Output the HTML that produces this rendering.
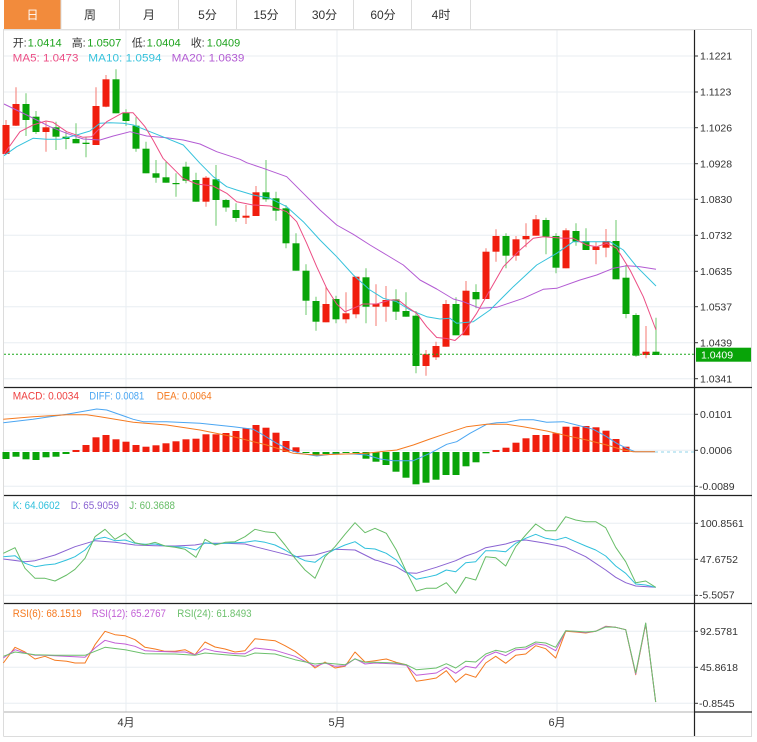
<!DOCTYPE html>
<html><head><meta charset="utf-8">
<style>
html,body{margin:0;padding:0;background:#fff;}
svg{display:block;font-family:"Liberation Sans","Noto Sans CJK SC",sans-serif;}
.wr{stroke:#f47a72;stroke-width:1}
.wg{stroke:#6cc86c;stroke-width:1}
.r{fill:#f01e0e}
.g{fill:#08a408}
.grid{stroke:#e8eef2;stroke-width:1}
.ax{font-size:10.5px;fill:#333}
.lg{font-size:11px}
</style></head>
<body>
<svg width="757" height="742" viewBox="0 0 757 742" xmlns="http://www.w3.org/2000/svg">
<rect width="757" height="742" fill="#fff"/>
<!-- tabs -->
<rect x="4" y="0" width="57" height="29" fill="#f28b3c"/>
<g stroke="#dcdcdc" stroke-width="1">
<line x1="61" y1="0" x2="61" y2="29"/>
<line x1="119.5" y1="0" x2="119.5" y2="29"/>
<line x1="178.5" y1="0" x2="178.5" y2="29"/>
<line x1="236.5" y1="0" x2="236.5" y2="29"/>
<line x1="295.5" y1="0" x2="295.5" y2="29"/>
<line x1="353.5" y1="0" x2="353.5" y2="29"/>
<line x1="411.5" y1="0" x2="411.5" y2="29"/>
<line x1="470.5" y1="0" x2="470.5" y2="29"/>
<line x1="3.5" y1="29.5" x2="752" y2="29.5"/>
<line x1="3.5" y1="29" x2="3.5" y2="736.5"/>
<line x1="751.5" y1="29" x2="751.5" y2="736.5"/>
<line x1="3.5" y1="736.5" x2="752" y2="736.5"/>
</g>
<g font-size="12" text-anchor="middle">
<text x="32.5" y="19" fill="#fff">日</text>
<text x="90" y="19" fill="#333">周</text>
<text x="149" y="19" fill="#333">月</text>
<text x="207.5" y="19" fill="#333">5分</text>
<text x="266" y="19" fill="#333">15分</text>
<text x="324.5" y="19" fill="#333">30分</text>
<text x="383" y="19" fill="#333">60分</text>
<text x="441" y="19" fill="#333">4时</text>
</g>

<!-- grid -->
<g class="grid">
<line x1="4" y1="56" x2="694" y2="56"/>
<line x1="4" y1="92" x2="694" y2="92"/>
<line x1="4" y1="127.7" x2="694" y2="127.7"/>
<line x1="4" y1="163.7" x2="694" y2="163.7"/>
<line x1="4" y1="199.3" x2="694" y2="199.3"/>
<line x1="4" y1="235.3" x2="694" y2="235.3"/>
<line x1="4" y1="271.3" x2="694" y2="271.3"/>
<line x1="4" y1="306.7" x2="694" y2="306.7"/>
<line x1="4" y1="342.7" x2="694" y2="342.7"/>
<line x1="4" y1="378.7" x2="694" y2="378.7"/>
<line x1="4" y1="414.3" x2="694" y2="414.3"/>
<line x1="4" y1="450.3" x2="694" y2="450.3"/>
<line x1="4" y1="486.3" x2="694" y2="486.3"/>
<line x1="4" y1="523.3" x2="694" y2="523.3"/>
<line x1="4" y1="559.3" x2="694" y2="559.3"/>
<line x1="4" y1="595.3" x2="694" y2="595.3"/>
<line x1="4" y1="631.3" x2="694" y2="631.3"/>
<line x1="4" y1="667.3" x2="694" y2="667.3"/>
<line x1="4" y1="703.3" x2="694" y2="703.3"/>
<line x1="126" y1="30" x2="126" y2="712"/>
<line x1="337" y1="30" x2="337" y2="712"/>
<line x1="557" y1="30" x2="557" y2="712"/>
</g>

<!-- candles -->
<g>
<line class="wr" x1="6" y1="120" x2="6" y2="154"/><rect class="r" x="2.5" y="125" width="7" height="29"/>
<line class="wr" x1="16" y1="87.3" x2="16" y2="126"/><rect class="r" x="12.5" y="104" width="7" height="21.7"/>
<line class="wg" x1="26" y1="93.3" x2="26" y2="136"/><rect class="g" x="22.5" y="104" width="7" height="16"/>
<line class="wg" x1="36" y1="111" x2="36" y2="134"/><rect class="g" x="32.5" y="116.7" width="7" height="15.3"/>
<line class="wr" x1="46" y1="121.7" x2="46" y2="151.7"/><rect class="r" x="42.5" y="127.3" width="7" height="4.7"/>
<line class="wg" x1="56" y1="121.7" x2="56" y2="150"/><rect class="g" x="52.5" y="127.3" width="7" height="9.4"/>
<line class="wg" x1="66" y1="131.7" x2="66" y2="149.3"/><rect class="g" x="62.5" y="136.7" width="7" height="2.3"/>
<line class="wg" x1="76" y1="123.3" x2="76" y2="143.3"/><rect class="g" x="72.5" y="139" width="7" height="4.3"/>
<line class="wg" x1="86" y1="136.7" x2="86" y2="157.3"/><rect class="g" x="82.5" y="142.7" width="7" height="1.3"/>
<line class="wr" x1="96" y1="87.3" x2="96" y2="145"/><rect class="r" x="92.5" y="106" width="7" height="39"/>
<line class="wr" x1="106" y1="75" x2="106" y2="107.3"/><rect class="r" x="102.5" y="79.3" width="7" height="27.4"/>
<line class="wg" x1="116" y1="69.3" x2="116" y2="113.3"/><rect class="g" x="112.5" y="79.3" width="7" height="34"/>
<line class="wg" x1="126" y1="109.3" x2="126" y2="126"/><rect class="g" x="122.5" y="112.7" width="7" height="8.3"/>
<line class="wg" x1="136" y1="117.3" x2="136" y2="151.7"/><rect class="g" x="132.5" y="125.7" width="7" height="23"/>
<line class="wg" x1="146" y1="141.7" x2="146" y2="173.3"/><rect class="g" x="142.5" y="148.7" width="7" height="24.6"/>
<line class="wg" x1="156" y1="160" x2="156" y2="182.7"/><rect class="g" x="152.5" y="173.3" width="7" height="4.4"/>
<line class="wg" x1="166" y1="161.7" x2="166" y2="182.7"/><rect class="g" x="162.5" y="177.3" width="7" height="5.4"/>
<line class="wg" x1="176" y1="173.3" x2="176" y2="196.7"/><rect class="g" x="172.5" y="183" width="7" height="1.2"/>
<line class="wg" x1="186" y1="161.7" x2="186" y2="183.3"/><rect class="g" x="182.5" y="166.7" width="7" height="14"/>
<line class="wg" x1="196" y1="172.7" x2="196" y2="201.7"/><rect class="g" x="192.5" y="180" width="7" height="21.7"/>
<line class="wr" x1="206" y1="176" x2="206" y2="206.7"/><rect class="r" x="202.5" y="177.7" width="7" height="24"/>
<line class="wg" x1="216" y1="165" x2="216" y2="225.7"/><rect class="g" x="212.5" y="179.3" width="7" height="20.7"/>
<line class="wg" x1="226" y1="199" x2="226" y2="211.7"/><rect class="g" x="222.5" y="200" width="7" height="7.5"/>
<line class="wg" x1="236" y1="203.3" x2="236" y2="221.7"/><rect class="g" x="232.5" y="210" width="7" height="8"/>
<line class="wr" x1="246" y1="205" x2="246" y2="224"/><rect class="r" x="242.5" y="215.7" width="7" height="2"/>
<line class="wr" x1="256" y1="186" x2="256" y2="216"/><rect class="r" x="252.5" y="192.3" width="7" height="23.7"/>
<line class="wg" x1="266" y1="160" x2="266" y2="201.7"/><rect class="g" x="262.5" y="192.3" width="7" height="7"/>
<line class="wg" x1="276" y1="191.7" x2="276" y2="220.7"/><rect class="g" x="272.5" y="198.3" width="7" height="12.4"/>
<line class="wg" x1="286" y1="205" x2="286" y2="248.3"/><rect class="g" x="282.5" y="208.3" width="7" height="35"/>
<line class="wg" x1="296" y1="233.3" x2="296" y2="270.7"/><rect class="g" x="292.5" y="243.3" width="7" height="27.4"/>
<line class="wg" x1="306" y1="264.3" x2="306" y2="315"/><rect class="g" x="302.5" y="270.7" width="7" height="30"/>
<line class="wg" x1="316" y1="296.7" x2="316" y2="330.7"/><rect class="g" x="312.5" y="301" width="7" height="20.7"/>
<line class="wr" x1="326" y1="286.7" x2="326" y2="322.3"/><rect class="r" x="322.5" y="304" width="7" height="18.3"/>
<line class="wg" x1="336" y1="295.7" x2="336" y2="323.3"/><rect class="g" x="332.5" y="299" width="7" height="20.3"/>
<line class="wr" x1="346" y1="292.3" x2="346" y2="323.3"/><rect class="r" x="342.5" y="313.3" width="7" height="6"/>
<line class="wr" x1="356" y1="276.7" x2="356" y2="318.3"/><rect class="r" x="352.5" y="276.7" width="7" height="37.6"/>
<line class="wg" x1="366" y1="268.3" x2="366" y2="323.3"/><rect class="g" x="362.5" y="277.3" width="7" height="29.4"/>
<line class="wr" x1="376" y1="284.3" x2="376" y2="326"/><rect class="r" x="372.5" y="304" width="7" height="2.7"/>
<line class="wr" x1="386" y1="286" x2="386" y2="321.7"/><rect class="r" x="382.5" y="300" width="7" height="6.7"/>
<line class="wg" x1="396" y1="289.3" x2="396" y2="320"/><rect class="g" x="392.5" y="299.3" width="7" height="12.4"/>
<line class="wg" x1="406" y1="292.3" x2="406" y2="316.7"/><rect class="g" x="402.5" y="311" width="7" height="5.7"/>
<line class="wg" x1="416" y1="311" x2="416" y2="373.3"/><rect class="g" x="412.5" y="315.7" width="7" height="50.3"/>
<line class="wr" x1="426" y1="350" x2="426" y2="375.7"/><rect class="r" x="422.5" y="354.3" width="7" height="11.7"/>
<line class="wr" x1="436" y1="341.7" x2="436" y2="360"/><rect class="r" x="432.5" y="346" width="7" height="11.3"/>
<line class="wr" x1="446" y1="300" x2="446" y2="346.7"/><rect class="r" x="442.5" y="304" width="7" height="42.7"/>
<line class="wg" x1="456" y1="297.3" x2="456" y2="335.3"/><rect class="g" x="452.5" y="304" width="7" height="31.3"/>
<line class="wr" x1="466" y1="281" x2="466" y2="335.3"/><rect class="r" x="462.5" y="290.7" width="7" height="44.6"/>
<line class="wg" x1="476" y1="284.3" x2="476" y2="308.3"/><rect class="g" x="472.5" y="292" width="7" height="7.3"/>
<line class="wr" x1="486" y1="248.3" x2="486" y2="299"/><rect class="r" x="482.5" y="251.7" width="7" height="47.3"/>
<line class="wr" x1="496" y1="229.3" x2="496" y2="261.7"/><rect class="r" x="492.5" y="236" width="7" height="15.7"/>
<line class="wg" x1="506" y1="233.3" x2="506" y2="268.3"/><rect class="g" x="502.5" y="236" width="7" height="19.7"/>
<line class="wr" x1="516" y1="236" x2="516" y2="260.7"/><rect class="r" x="512.5" y="239.3" width="7" height="16.4"/>
<line class="wr" x1="526" y1="223.3" x2="526" y2="247.3"/><rect class="r" x="522.5" y="236" width="7" height="3.3"/>
<line class="wr" x1="536" y1="215" x2="536" y2="235.7"/><rect class="r" x="532.5" y="219.3" width="7" height="16.4"/>
<line class="wg" x1="546" y1="217.7" x2="546" y2="254.3"/><rect class="g" x="542.5" y="220" width="7" height="16.7"/>
<line class="wg" x1="556" y1="233.3" x2="556" y2="273.3"/><rect class="g" x="552.5" y="236" width="7" height="31.7"/>
<line class="wr" x1="566" y1="228.3" x2="566" y2="268.3"/><rect class="r" x="562.5" y="230.3" width="7" height="38"/>
<line class="wg" x1="576" y1="223.3" x2="576" y2="245.7"/><rect class="g" x="572.5" y="231" width="7" height="10.7"/>
<line class="wg" x1="586" y1="228.3" x2="586" y2="250"/><rect class="g" x="582.5" y="241" width="7" height="9"/>
<line class="wr" x1="596" y1="241.7" x2="596" y2="264.3"/><rect class="r" x="592.5" y="246.7" width="7" height="3.3"/>
<line class="wr" x1="606" y1="229" x2="606" y2="257.3"/><rect class="r" x="602.5" y="241" width="7" height="6.7"/>
<line class="wg" x1="616" y1="220" x2="616" y2="279.3"/><rect class="g" x="612.5" y="241" width="7" height="38.3"/>
<line class="wg" x1="626" y1="265" x2="626" y2="318.3"/><rect class="g" x="622.5" y="277.7" width="7" height="36.3"/>
<line class="wg" x1="636" y1="313.3" x2="636" y2="356.7"/><rect class="g" x="632.5" y="315" width="7" height="40.7"/>
<line class="wr" x1="646" y1="326" x2="646" y2="358.3"/><rect class="r" x="642.5" y="351.7" width="7" height="3.3"/>
<line class="wg" x1="656" y1="317.7" x2="656" y2="355"/><rect class="g" x="652.5" y="351.7" width="7" height="3.3"/>
</g>

<!-- MA lines -->
<g fill="none" stroke-width="1" stroke-linejoin="round">
<polyline stroke="#b35bd3" points="4,104 26.7,115 50,126.7 66.7,133.3 83.3,139 100,140 113.3,136 130,131.7 146.7,136 166.7,137.7 183.3,140 200,144 216.7,151.7 240,159.3 246.7,162.7 263.3,168.3 286.7,176.7 303.3,193.3 320,210 336.7,225 353.3,234.3 370,245 386.7,255 403.3,265 420,280 436.7,289 453.3,299 463.3,301.7 480,308.3 496.7,307.3 523.3,298.3 543.3,289.3 556.7,288.3 580,280 596.7,275 613.3,268.3 626.7,265.7 640,266.7 656,269.3"/>
<polyline stroke="#36c2dc" points="4,155.7 16.7,146.7 33,138.3 46.7,139.3 60,139.3 76.7,135 90,131 100,123.3 110,122.7 123.3,123.3 133.3,125 150,131.7 166.7,138.3 183.3,145 200,163.3 213.3,176.7 226.7,186.7 236.7,190 253.3,195 270,198.3 286.7,206.7 303.3,221.7 320,240 336.7,256.7 353.3,275 370,290 383.3,298.3 396.7,301.7 410,310 426.7,316.7 440,319 450,318.3 456.7,323.3 473.3,321.7 490,310 513.3,286.7 536.7,265 556.7,253.3 573.3,241.7 590,241.7 610,241.7 623.3,250 636.7,266.7 656,286"/>
<polyline stroke="#ec4d84" points="4,154 20,131.7 33,125 46,121 53,122.3 66.7,131.7 83,137.3 91.7,136.7 100,128 106.7,121.7 123,112.7 133,112.7 145,126.7 153,140 163,158.3 183,178.3 196.7,184 213,186 226.7,193.3 236.7,201.7 253,205 270,206 286.7,211.7 296.7,221.7 306.7,243.3 316.7,266.7 326.7,288.3 336.7,304 345,311.7 353.3,308.3 363.3,304 376.7,304 390,300 398.3,300 406.7,306.7 416.7,313.3 426.7,326.7 436.7,337.5 446.7,338.5 455,340.5 463,333.3 476.7,313.3 490,290 503.3,266.7 520,250 533.3,238.3 543.3,236.7 563.3,238.3 573.3,238.3 586.7,245 596.7,246.7 606.7,243.3 616.7,248.3 630,270 643.3,296.7 656,330"/>
</g>
<line x1="4" y1="354.3" x2="694" y2="354.3" stroke="#1aa81a" stroke-width="1" stroke-dasharray="2,2"/>

<!-- main legend -->
<g class="lg">
<text x="12.7" y="46.7" fill="#333">开:</text><text x="27.7" y="46.7" fill="#1ca31c" textLength="34" lengthAdjust="spacingAndGlyphs">1.0414</text>
<text x="71.7" y="46.7" fill="#333">高:</text><text x="87.3" y="46.7" fill="#1ca31c" textLength="34" lengthAdjust="spacingAndGlyphs">1.0507</text>
<text x="131.7" y="46.7" fill="#333">低:</text><text x="146.7" y="46.7" fill="#1ca31c" textLength="34" lengthAdjust="spacingAndGlyphs">1.0404</text>
<text x="190.7" y="46.7" fill="#333">收:</text><text x="206.7" y="46.7" fill="#1ca31c" textLength="33.5" lengthAdjust="spacingAndGlyphs">1.0409</text>
<text x="12.7" y="61.3" fill="#ec4d84" textLength="65.7" lengthAdjust="spacingAndGlyphs">MA5: 1.0473</text>
<text x="88.3" y="61.3" fill="#36c2dc" textLength="73.3" lengthAdjust="spacingAndGlyphs">MA10: 1.0594</text>
<text x="171.7" y="61.3" fill="#b35bd3" textLength="72.7" lengthAdjust="spacingAndGlyphs">MA20: 1.0639</text>
</g>

<!-- MACD -->
<g>
<rect class="g" x="2.5" y="452" width="7" height="7"/>
<rect class="g" x="12.5" y="452" width="7" height="4.7"/>
<rect class="g" x="22.5" y="452" width="7" height="7.3"/>
<rect class="g" x="32.5" y="452" width="7" height="8"/>
<rect class="g" x="42.5" y="452" width="7" height="5.3"/>
<rect class="g" x="52.5" y="452" width="7" height="4.7"/>
<rect class="g" x="62.5" y="452" width="7" height="2"/>
<rect class="r" x="72.5" y="450" width="7" height="2"/>
<rect class="r" x="82.5" y="445" width="7" height="7"/>
<rect class="r" x="92.5" y="437.3" width="7" height="14.7"/>
<rect class="r" x="102.5" y="435" width="7" height="17"/>
<rect class="r" x="112.5" y="439.3" width="7" height="12.7"/>
<rect class="r" x="122.5" y="441.7" width="7" height="10.3"/>
<rect class="r" x="132.5" y="445" width="7" height="7"/>
<rect class="r" x="142.5" y="446.7" width="7" height="5.3"/>
<rect class="r" x="152.5" y="445.3" width="7" height="6.7"/>
<rect class="r" x="162.5" y="443.3" width="7" height="8.7"/>
<rect class="r" x="172.5" y="441.3" width="7" height="10.7"/>
<rect class="r" x="182.5" y="439.3" width="7" height="12.7"/>
<rect class="r" x="192.5" y="438.7" width="7" height="13.3"/>
<rect class="r" x="202.5" y="434.3" width="7" height="17.7"/>
<rect class="r" x="212.5" y="434.3" width="7" height="17.7"/>
<rect class="r" x="222.5" y="433" width="7" height="19"/>
<rect class="r" x="232.5" y="431" width="7" height="21"/>
<rect class="r" x="242.5" y="428.3" width="7" height="23.7"/>
<rect class="r" x="252.5" y="425" width="7" height="27"/>
<rect class="r" x="262.5" y="427.7" width="7" height="24.3"/>
<rect class="r" x="272.5" y="432.7" width="7" height="19.3"/>
<rect class="r" x="282.5" y="441" width="7" height="11"/>
<rect class="r" x="292.5" y="447.3" width="7" height="4.7"/>
<rect class="g" x="302.5" y="452" width="7" height="1"/>
<rect class="g" x="312.5" y="452" width="7" height="3"/>
<rect class="g" x="322.5" y="452" width="7" height="2"/>
<rect class="g" x="332.5" y="452" width="7" height="2"/>
<rect class="g" x="342.5" y="452" width="7" height="1"/>
<rect class="g" x="352.5" y="452" width="7" height="1"/>
<rect class="g" x="362.5" y="452" width="7" height="6.7"/>
<rect class="g" x="372.5" y="452" width="7" height="9.7"/>
<rect class="g" x="382.5" y="452" width="7" height="13"/>
<rect class="g" x="392.5" y="452" width="7" height="19.7"/>
<rect class="g" x="402.5" y="452" width="7" height="25.7"/>
<rect class="g" x="412.5" y="452" width="7" height="32.3"/>
<rect class="g" x="422.5" y="452" width="7" height="30.7"/>
<rect class="g" x="432.5" y="452" width="7" height="27.7"/>
<rect class="g" x="442.5" y="452" width="7" height="23"/>
<rect class="g" x="452.5" y="452" width="7" height="23"/>
<rect class="g" x="462.5" y="452" width="7" height="14.3"/>
<rect class="g" x="472.5" y="452" width="7" height="10.3"/>
<rect class="g" x="482.5" y="452" width="7" height="1.3"/>
<rect class="r" x="492.5" y="450" width="7" height="2"/>
<rect class="r" x="502.5" y="447.7" width="7" height="4.3"/>
<rect class="r" x="512.5" y="442.7" width="7" height="9.3"/>
<rect class="r" x="522.5" y="438.3" width="7" height="13.7"/>
<rect class="r" x="532.5" y="435" width="7" height="17"/>
<rect class="r" x="542.5" y="435" width="7" height="17"/>
<rect class="r" x="552.5" y="433.3" width="7" height="18.7"/>
<rect class="r" x="562.5" y="426.7" width="7" height="25.3"/>
<rect class="r" x="572.5" y="426.7" width="7" height="25.3"/>
<rect class="r" x="582.5" y="426" width="7" height="26"/>
<rect class="r" x="592.5" y="427.3" width="7" height="24.7"/>
<rect class="r" x="602.5" y="430.7" width="7" height="21.3"/>
<rect class="r" x="612.5" y="439" width="7" height="13"/>
<rect class="r" x="622.5" y="446.7" width="7" height="5.3"/>
</g>
<g fill="none" stroke-width="1" stroke-linejoin="round">
<polyline stroke="#4ba6f2" points="3.3,422.7 33,419.3 66.7,414.3 96.7,409 106.7,410 133.3,419.3 143.3,421.7 166.7,421.7 200,423.3 233.3,426.7 253.3,429.3 263.3,435 276.7,443.3 290,450 300,453.3 316.7,456 333.3,454 353.3,454 366.7,455 380,459 393.3,460.7 413.3,460.7 430,453.3 446.7,444.3 456.7,441.7 470,433.3 486.7,424.3 496.7,422.7 506.7,422.3 520,419.7 533.3,419.7 546.7,422.3 563.3,421.7 576.7,425 593.3,429.3 606.7,436.7 616.7,443.3 626.7,448.3 635,451.7 655,451.7"/>
<polyline stroke="#f57a20" points="3.3,419.3 33,416.7 66.7,414.7 86.7,414.7 100,416.7 133.3,422.3 166.7,425 200,430 233.3,436.7 266.7,445 293.3,453.3 316.7,455 366.7,453.3 380,451.7 396.7,450 413.3,445 430,439 446.7,433.3 466.7,426.7 486.7,424.3 506.7,424.3 523.3,426.7 546.7,431 566.7,435.7 586.7,440 606.7,445 623.3,450 633.3,451.7 655,451.7"/>
</g>
<line x1="655" y1="452" x2="694" y2="452" stroke="#8fd3ea" stroke-width="1" stroke-dasharray="3,3"/>
<g class="lg">
<text x="12.7" y="399.7" fill="#ee4040" textLength="66.3" lengthAdjust="spacingAndGlyphs">MACD: 0.0034</text>
<text x="89.3" y="399.7" fill="#4ba6f2" textLength="55" lengthAdjust="spacingAndGlyphs">DIFF: 0.0081</text>
<text x="156.7" y="399.7" fill="#f57a20" textLength="55" lengthAdjust="spacingAndGlyphs">DEA: 0.0064</text>
</g>

<!-- KDJ -->
<g fill="none" stroke-width="1" stroke-linejoin="round">
<polyline stroke="#8a63d2" points="3.3,559 25,561.7 35,560.7 55,555 75,546.7 95,540.7 115,542.3 135,545 155,545.7 175,546 195,545 205,543.3 225,543.3 245,544 255,546.7 275,551.7 295,556.7 315,555 335,549.3 355,550 375,560 378,560.7 396.3,566.7 406.3,572.7 416.3,573.3 436.3,567.3 455.7,560.7 465.7,556 475.7,552.7 485.7,547.7 505.7,544 515.7,541 525.7,540 545.7,543.3 565.7,547.3 585.7,556.7 605.7,570 615.7,577.3 625.7,582.7 635.7,586 655.7,587.3"/>
<polyline stroke="#30c0dc" points="3.3,556.7 15,555.7 25,563.3 35,566.7 45,565 55,564 66.7,560 75,556.7 85,550 95,539.3 105,537.3 115,540.7 125,540 135,543.3 145,544.3 155,544 165,546 175,546.7 185,547.3 196,550 205,542.7 215,544 225,543.3 235,542.7 245,542.3 255,540.7 265,542.3 275,545 285,550 295,556 305,560.7 315,562.3 325,555 335,549.3 345,545 355,541.7 365,548.3 375,549 386.3,553.3 396.3,560 406.3,571.7 416.3,579.3 426.3,577.3 436.3,575 446.3,570 455.7,571.7 465.7,562.7 475.7,561.7 485.7,550.7 495.7,550.7 505.7,551.7 515.7,543.3 525.7,538.3 535.7,534.3 545.7,538.3 555.7,540 565.7,537.3 575.7,541.7 585.7,546 595.7,550 605.7,556 615.7,566 625.7,573.3 635.7,584 645.7,585 655.7,587.3"/>
<polyline stroke="#67bd67" points="3.3,553.3 15,547.7 25,568.3 35,578.3 45,578.3 55,581 66.7,575 75,569.3 85,558.3 95,536.7 105,529.3 115,539.3 125,533.3 135,542.7 145,545 155,542.3 165,546 175,547.3 185,549.3 196,557.3 205,539.3 215,545 225,542.3 235,541.7 245,536.7 255,529.3 265,531.7 275,532.7 285,545 295,558.3 305,570 315,578.3 325,556.7 335,546.7 345,534.3 355,522.7 365,532.7 375,528.3 386.3,533.3 396.3,550 406.3,571.7 416.3,591 426.3,588.3 436.3,588.3 446.3,582.7 455.7,593.3 465.7,577.3 475.7,580 485.7,556.7 495.7,557.7 505.7,566 515.7,546.7 525.7,535 535.7,524 545.7,530.7 555.7,530.7 565.7,516.7 575.7,520 585.7,521.7 595.7,521.7 605.7,527.7 615.7,547.3 625.7,561.7 635.7,582.7 645.7,581 655.7,587.3"/>
</g>
<g class="lg">
<text x="12.7" y="509" fill="#30c0dc" textLength="47.3" lengthAdjust="spacingAndGlyphs">K: 64.0602</text>
<text x="70.7" y="509" fill="#8a63d2" textLength="48.3" lengthAdjust="spacingAndGlyphs">D: 65.9059</text>
<text x="129.3" y="509" fill="#67bd67" textLength="45.7" lengthAdjust="spacingAndGlyphs">J: 60.3688</text>
</g>

<!-- RSI -->
<g fill="none" stroke-width="1" stroke-linejoin="round">
<polyline stroke="#f57a20" points="3.3,663 15,647.3 25,652 35,659 45,656.3 55,660.3 66.7,661.3 75,663 85,663 95,644.7 105,631.3 115,634.7 125,635.7 135,639.7 145,647.3 155,649 165,651.3 175,651.3 185,649.7 195,654.7 205,642 215,647 225,649 235,652 245,650.7 255,638.7 265,639.7 275,640.7 285,645.7 295,651.3 305,659 315,668 325,662 335,668 345,666.3 355,652 365,662 375,660.7 386.3,659 396.3,662.3 406.3,664.7 416.3,681.3 426.3,679.7 436.3,678 446.3,670.7 455.7,682.3 465.7,674 475.7,677.3 485.7,663 495.7,656.3 505.7,663.3 515.7,655.3 525.7,654 535.7,645.7 545.7,648.7 555.7,658 565.7,631.3 575.7,632 585.7,633 595.7,631.3 605.7,626.3 615.7,627.3 625.7,629.7 635.7,674.7 645.7,624 655.7,702"/>
<polyline stroke="#c25fd6" points="3.3,658 15,649.7 25,653 35,655.3 45,655.3 65,656.3 85,657.3 95,648 105,640.3 115,643 125,644 135,646.3 145,650.7 155,651.3 175,652 185,652 195,654.7 205,648.7 215,651.3 235,653.7 245,653.7 255,648 275,650.3 295,656.3 315,666.3 325,663 335,666.3 345,665.7 355,658.7 365,664 375,663 396.3,664 406.3,665.3 416.3,675.3 436.3,673 446.3,667.3 455.7,673.3 465.7,666.3 475.7,668 485.7,656.3 495.7,652 505.7,655.7 515.7,649.7 525.7,649 535.7,643.7 545.7,645.3 555.7,650.7 565.7,630.7 575.7,631.5 585.7,632.5 595.7,631.3 605.7,626.5 615.7,627.3 625.7,629.7 635.7,674 645.7,623.5 655.7,702"/>
<polyline stroke="#6cc06c" points="3.3,656.3 15,652 35,654.7 55,655.3 85,655.3 105,647.3 125,649.7 145,653.7 175,654 195,655.3 205,653 225,654.7 245,656.3 255,653 275,654 295,659.7 315,664 325,663 345,664.7 355,659 365,662.3 375,662.3 396.3,663 406.3,664.7 416.3,669.7 436.3,668 446.3,663.7 455.7,668 465.7,661.3 475.7,662 485.7,654 495.7,650.3 505.7,652.3 515.7,648 525.7,647 535.7,642 545.7,643 555.7,647.3 565.7,630.7 575.7,631.3 585.7,632 595.7,631.3 605.7,627 615.7,627.3 625.7,629.7 635.7,673 645.7,623 655.7,702"/>
</g>
<g class="lg">
<text x="12.7" y="617" fill="#f57a20" textLength="69" lengthAdjust="spacingAndGlyphs">RSI(6): 68.1519</text>
<text x="91.7" y="617" fill="#c25fd6" textLength="74.3" lengthAdjust="spacingAndGlyphs">RSI(12): 65.2767</text>
<text x="177.3" y="617" fill="#6cc06c" textLength="74.3" lengthAdjust="spacingAndGlyphs">RSI(24): 61.8493</text>
</g>

<!-- panel separators & axes -->
<g stroke="#222" stroke-width="1.2">
<line x1="4" y1="387.5" x2="752" y2="387.5"/>
<line x1="4" y1="495.5" x2="752" y2="495.5"/>
<line x1="4" y1="603.5" x2="752" y2="603.5"/>
<line x1="694" y1="712" x2="752" y2="712"/>
<line x1="694.5" y1="30" x2="694.5" y2="736"/>
</g>
<line x1="4" y1="712" x2="694" y2="712" stroke="#b0b0b0" stroke-width="1"/>
<line x1="4" y1="30" x2="694" y2="30" stroke="#e4e4e4" stroke-width="1"/>

<!-- ticks -->
<g stroke="#333" stroke-width="1">
<line x1="694" y1="56" x2="698" y2="56"/><line x1="694" y1="92" x2="698" y2="92"/><line x1="694" y1="127.7" x2="698" y2="127.7"/><line x1="694" y1="163.7" x2="698" y2="163.7"/><line x1="694" y1="199.3" x2="698" y2="199.3"/><line x1="694" y1="235.3" x2="698" y2="235.3"/><line x1="694" y1="271.3" x2="698" y2="271.3"/><line x1="694" y1="306.7" x2="698" y2="306.7"/><line x1="694" y1="342.7" x2="698" y2="342.7"/><line x1="694" y1="378.7" x2="698" y2="378.7"/>
<line x1="694" y1="414.3" x2="698" y2="414.3"/><line x1="694" y1="450.3" x2="698" y2="450.3"/><line x1="694" y1="486.3" x2="698" y2="486.3"/>
<line x1="694" y1="523.3" x2="698" y2="523.3"/><line x1="694" y1="559.3" x2="698" y2="559.3"/><line x1="694" y1="595.3" x2="698" y2="595.3"/>
<line x1="694" y1="631.3" x2="698" y2="631.3"/><line x1="694" y1="667.3" x2="698" y2="667.3"/><line x1="694" y1="703.3" x2="698" y2="703.3"/>
</g>
<g class="ax">
<text x="700" y="59.7">1.1221</text>
<text x="700" y="95.7">1.1123</text>
<text x="700" y="131.4">1.1026</text>
<text x="700" y="167.4">1.0928</text>
<text x="700" y="203">1.0830</text>
<text x="700" y="239">1.0732</text>
<text x="700" y="275">1.0635</text>
<text x="700" y="310.4">1.0537</text>
<text x="700" y="346.4">1.0439</text>
<text x="700" y="382.4">1.0341</text>
<text x="700" y="418">0.0101</text>
<text x="700" y="454">0.0006</text>
<text x="699" y="490">-0.0089</text>
<text x="700" y="527">100.8561</text>
<text x="700" y="563">47.6752</text>
<text x="699" y="598.5">-5.5057</text>
<text x="700" y="635">92.5781</text>
<text x="700" y="671">45.8618</text>
<text x="699" y="707">-0.8545</text>
</g>
<rect x="696" y="347.7" width="55" height="14" fill="#08a408"/>
<text x="701" y="358.6" font-size="10.5" fill="#fff">1.0409</text>

<g font-size="11" fill="#333" text-anchor="middle">
<text x="126" y="726">4月</text>
<text x="337" y="726">5月</text>
<text x="557" y="726">6月</text>
</g>
</svg>
</body></html>
